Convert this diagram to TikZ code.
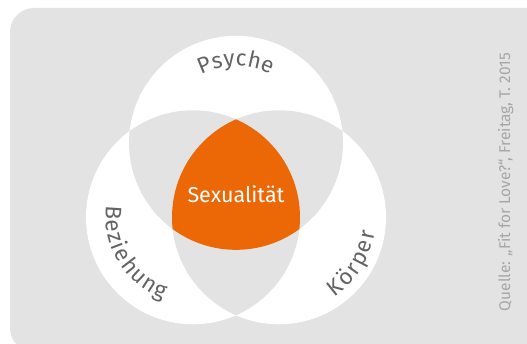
\documentclass[tikz,border=0pt]{standalone}
\usepackage{fontspec}
\setmainfont{Fira Sans}
\usetikzlibrary{calc}
\definecolor{bggray}{HTML}{E3E3E3}
\definecolor{vorange}{RGB}{236,104,6}
\definecolor{labelgray}{HTML}{636363}
\definecolor{srcgray}{HTML}{A6A6A6}
\tikzset{
  letter/.style={text=labelgray, font=\fontsize{22.5}{22.5}\selectfont, inner sep=0pt, anchor=base}
}
\begin{document}
\begin{tikzpicture}[x=1pt,y=1pt]
\useasboundingbox (0,0) rectangle (527,344);
\clip (0,0) rectangle (527,344);
\fill[bggray, rounded corners=24pt] (10,-8) rectangle (560,336);
\coordinate (cT) at (236,201.15);
\coordinate (cL) at (193,126.7);
\coordinate (cR) at (279,126.7);
\def\R{107}
% circles
\fill[white] (cT) circle[radius=\R];
\fill[white] (cL) circle[radius=\R];
\fill[white] (cR) circle[radius=\R];
% pairwise overlaps
\begin{scope}
  \clip (cT) circle[radius=\R];
  \fill[bggray] (cL) circle[radius=\R];
  \fill[bggray] (cR) circle[radius=\R];
\end{scope}
\begin{scope}
  \clip (cL) circle[radius=\R];
  \fill[bggray] (cR) circle[radius=\R];
\end{scope}
% triple overlap
\begin{scope}
  \clip (cT) circle[radius=\R];
  \clip (cL) circle[radius=\R];
  \fill[vorange] (cR) circle[radius=\R];
\end{scope}
\node[text=white, font=\fontsize{21.5}{21.5}\selectfont, anchor=base] (sex) at (236,141) {Sexualität};
% curved labels, letter by letter
\foreach \c/\a [count=\i] in {P/112.20, s/103.16, y/94.79, c/86.40, h/77.28, e/67.50}
  \node[letter, rotate=\a-90] (psy\i) at ($(cT)+(\a:77)$) {\c};
\foreach \c/\a [count=\i] in {B/176.47, e/186.11, z/194.59, i/201.00, e/208.10, h/217.55, u/227.25, n/236.96, g/246.20}
  \node[letter, rotate=\a+90] (bez\i) at ($(cL)+(\a:87)$) {\c};
\foreach \c/\a [count=\i] in {K/-51.18, ö/-42.39, r/-34.97, p/-27.45, e/-18.78, r/-11.45}
  \node[letter, rotate=\a+90] (koe\i) at ($(cR)+(\a:97)$) {\c};
% source
\node[rotate=90, anchor=base, text=srcgray, font=\fontsize{15.5}{15.5}\selectfont] (quelle) at (510,162) {Quelle: „Fit for Love?“, Freitag, T. 2015};
\end{tikzpicture}
\end{document}
